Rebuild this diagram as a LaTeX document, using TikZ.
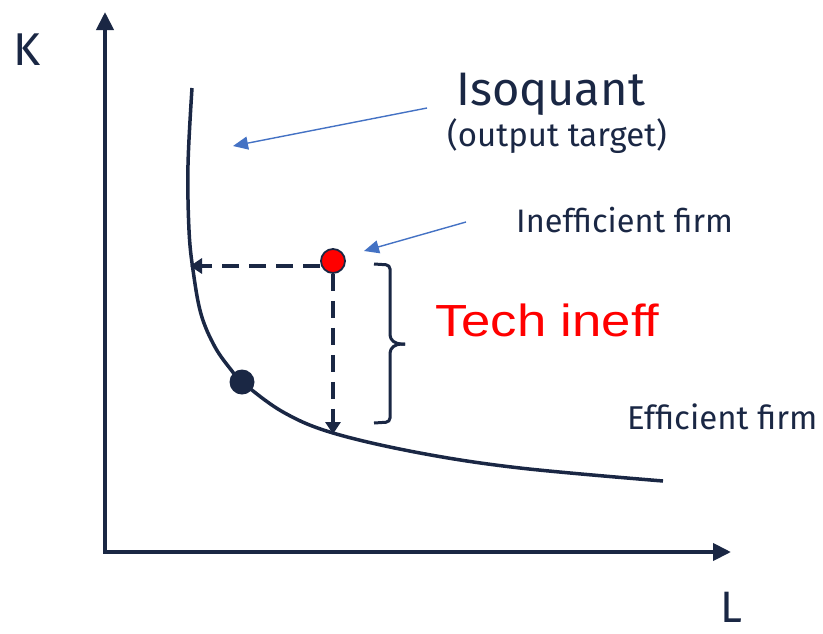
\documentclass[tikz,border=0pt]{standalone}
\usepackage{fontspec}
\setmainfont{Fira Sans}
\newfontfamily\arialf{Liberation Sans}
\usetikzlibrary{arrows.meta}
\definecolor{navy}{RGB}{26,39,68}
\definecolor{bluearr}{RGB}{68,114,196}
\begin{document}
\begin{tikzpicture}[x=1pt,y=-1pt,
  axis/.style={draw=navy,line width=4pt,-{Triangle[length=18pt,width=17pt]}},
  curve/.style={draw=navy,line width=3.5pt},
  dasharr/.style={draw=navy,line width=3.6pt,dash pattern=on 17pt off 10pt,-{Triangle[length=12pt,width=15pt]}},
  bluea/.style={draw=bluearr,line width=1.4pt,-{Triangle[length=15pt,width=13pt]}},
  lbl/.style={inner sep=0pt,anchor=base west,text=navy},
]
\useasboundingbox (0,0) rectangle (823,633);
% axes
\coordinate (O) at (105,553);
\coordinate (ytop) at (105,12);
\coordinate (xend) at (731,552);
\coordinate (O2) at (103,552);
\draw[axis] (O) -- (ytop);
\draw[axis] (O2) -- (xend);
% isoquant
\draw[curve] plot[smooth,tension=0.6] coordinates {(192,88) (188,165) (189,230) (193,270) (201,314) (215,347) (232,371) (242,382) (283,412) (333,433) (420,453) (520,468) (663,481)};
% dots
\node[circle,fill=navy,minimum size=25pt,inner sep=0pt] (eff) at (242,382) {};
\node[circle,fill=red,draw=navy,line width=1.8pt,minimum size=24pt,inner sep=0pt] (ineff) at (333,261) {};
% dashed arrows
\coordinate (hend) at (190,266);
\coordinate (vend) at (333,434);
\draw[dasharr] ([yshift=-5pt]ineff.west) -- (hend);
\draw[dasharr] (ineff.south) -- (vend);
% brace
\draw[navy,line width=3pt,rounded corners=4pt] (374,264) -- (390,265) -- (390,339) -- (397,344) -- (405,344);
\draw[navy,line width=3pt,rounded corners=4pt] (405,344) -- (397,344) -- (390,349) -- (390,422) -- (374,423);
% texts
\node[lbl,font=\fontsize{46}{46}\selectfont] (K) at (13,65) {K};
\node[lbl,font=\fontsize{44}{44}\selectfont,text depth=0pt] (L) at (720,622) {L};
\node[lbl,font=\fontsize{47}{47}\selectfont] (iso) at (456,105) {Isoquant};
\node[lbl,font=\fontsize{33}{33}\selectfont] (out) at (447,146) {(output target)};
\node[lbl,font=\fontsize{32.5}{33}\selectfont] (inf) at (516,232) {Inefficient firm};
\node[lbl,font=\fontsize{33}{33}\selectfont] (ef) at (627,429) {Efficient firm};
\node[lbl,text=red,font=\arialf\fontsize{45}{45}\selectfont] (tech) at (435,336) {\scalebox{1.17}[1]{Tech ineff}};
% blue arrows
\coordinate (b1s) at (427,108);
\coordinate (b1e) at (233,146);
\coordinate (b2s) at (466,222);
\coordinate (b2e) at (364,251);
\draw[bluea] (b1s) -- (b1e);
\draw[bluea] (b2s) -- (b2e);
\end{tikzpicture}
\end{document}
